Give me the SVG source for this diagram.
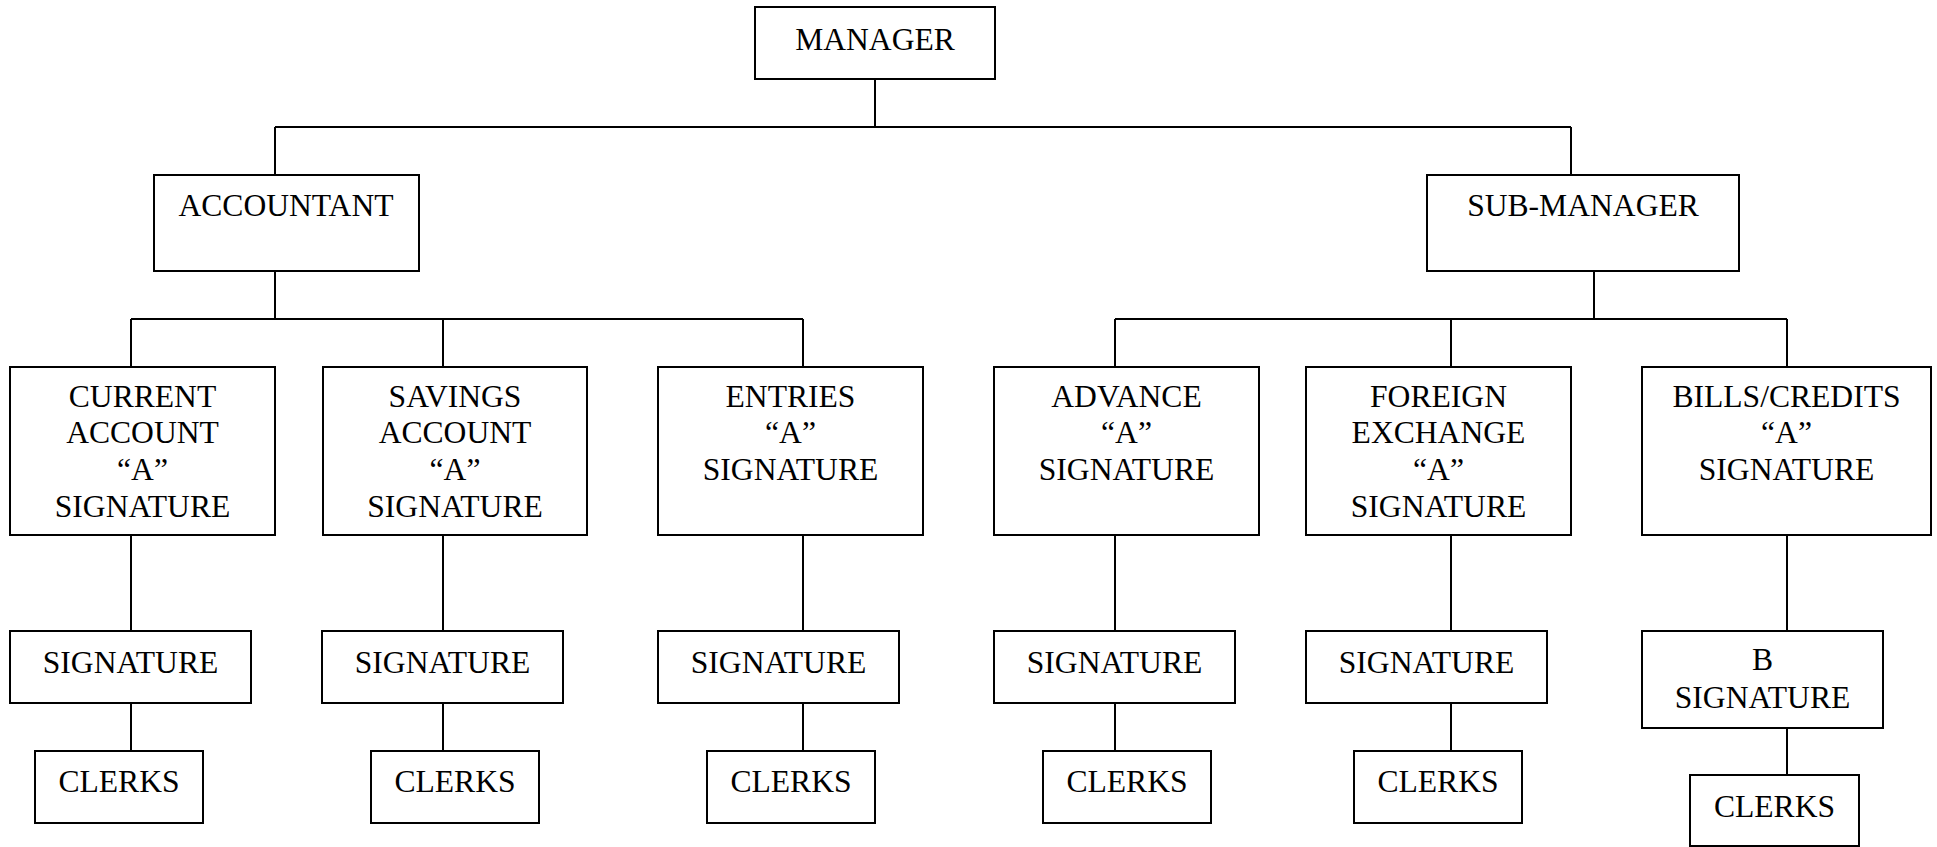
<svg xmlns="http://www.w3.org/2000/svg" width="1937" height="847" viewBox="0 0 1937 847">
<style>
rect{fill:#fff;stroke:#000;stroke-width:2}
text{font-family:"Liberation Serif","Times New Roman",serif;font-size:31.6px;fill:#000;text-anchor:middle}
#connectors path{fill:none;stroke:#000;stroke-width:2}
</style>
<rect x="0" y="0" width="1937" height="847" style="stroke:none"/>
<g id="connectors">
<path d="M875 79V127M275 127H1571M275 127V175M1571 127V175"/>
<path d="M275 271V319M131 319H803M131 319V367M443 319V367M803 319V367"/>
<path d="M1594 271V319M1115 319H1787M1115 319V367M1451 319V367M1787 319V367"/>
<path d="M131 535V631M443 535V631M803 535V631M1115 535V631M1451 535V631M1787 535V631"/>
<path d="M131 703V751M443 703V751M803 703V751M1115 703V751M1451 703V751M1787 728V775"/>
</g>
<g id="manager"><rect x="755" y="7" width="240" height="72"/><text x="875" y="50">MANAGER</text></g>
<g id="accountant"><rect x="154" y="175" width="265" height="96"/><text x="286" y="216">ACCOUNTANT</text></g>
<g id="sub-manager"><rect x="1427" y="175" width="312" height="96"/><text x="1583" y="216">SUB-MANAGER</text></g>
<g id="current-account"><rect x="10" y="367" width="265" height="168"/><text x="142.5" y="407">CURRENT</text><text x="142.5" y="443">ACCOUNT</text><text x="142.5" y="480">“A”</text><text x="142.5" y="517">SIGNATURE</text></g>
<g id="savings-account"><rect x="323" y="367" width="264" height="168"/><text x="455" y="407">SAVINGS</text><text x="455" y="443">ACCOUNT</text><text x="455" y="480">“A”</text><text x="455" y="517">SIGNATURE</text></g>
<g id="entries"><rect x="658" y="367" width="265" height="168"/><text x="790.5" y="407">ENTRIES</text><text x="790.5" y="443">“A”</text><text x="790.5" y="480">SIGNATURE</text></g>
<g id="advance"><rect x="994" y="367" width="265" height="168"/><text x="1126.5" y="407">ADVANCE</text><text x="1126.5" y="443">“A”</text><text x="1126.5" y="480">SIGNATURE</text></g>
<g id="foreign-exchange"><rect x="1306" y="367" width="265" height="168"/><text x="1438.5" y="407">FOREIGN</text><text x="1438.5" y="443">EXCHANGE</text><text x="1438.5" y="480">“A”</text><text x="1438.5" y="517">SIGNATURE</text></g>
<g id="bills-credits"><rect x="1642" y="367" width="289" height="168"/><text x="1786.5" y="407">BILLS/CREDITS</text><text x="1786.5" y="443">“A”</text><text x="1786.5" y="480">SIGNATURE</text></g>
<g id="signature-1"><rect x="10" y="631" width="241" height="72"/><text x="130.5" y="673">SIGNATURE</text></g>
<g id="signature-2"><rect x="322" y="631" width="241" height="72"/><text x="442.5" y="673">SIGNATURE</text></g>
<g id="signature-3"><rect x="658" y="631" width="241" height="72"/><text x="778.5" y="673">SIGNATURE</text></g>
<g id="signature-4"><rect x="994" y="631" width="241" height="72"/><text x="1114.5" y="673">SIGNATURE</text></g>
<g id="signature-5"><rect x="1306" y="631" width="241" height="72"/><text x="1426.5" y="673">SIGNATURE</text></g>
<g id="b-signature"><rect x="1642" y="631" width="241" height="97"/><text x="1762.5" y="670">B</text><text x="1762.5" y="708">SIGNATURE</text></g>
<g id="clerks-1"><rect x="35" y="751" width="168" height="72"/><text x="119" y="792">CLERKS</text></g>
<g id="clerks-2"><rect x="371" y="751" width="168" height="72"/><text x="455" y="792">CLERKS</text></g>
<g id="clerks-3"><rect x="707" y="751" width="168" height="72"/><text x="791" y="792">CLERKS</text></g>
<g id="clerks-4"><rect x="1043" y="751" width="168" height="72"/><text x="1127" y="792">CLERKS</text></g>
<g id="clerks-5"><rect x="1354" y="751" width="168" height="72"/><text x="1438" y="792">CLERKS</text></g>
<g id="clerks-6"><rect x="1690" y="775" width="169" height="71"/><text x="1774.5" y="817">CLERKS</text></g>
</svg>
